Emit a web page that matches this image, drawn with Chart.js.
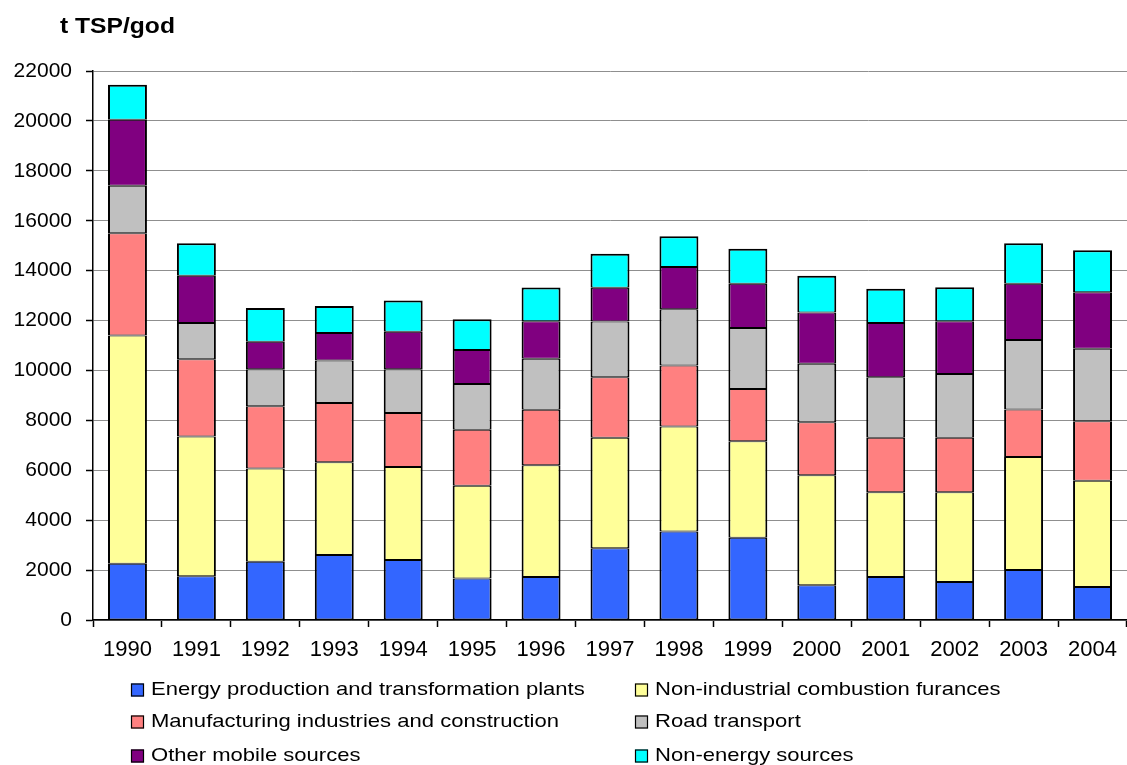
<!DOCTYPE html>
<html>
<head>
<meta charset="utf-8">
<script src="https://cdn.jsdelivr.net/npm/chart.js@4"></script>
<style>
  html, body { margin: 0; padding: 0; background: #fff; }
  #wrap { width: 1127px; height: 765px; position: relative; }
</style>
</head>
<body>
<div id="wrap"><canvas id="c" width="1127" height="765"></canvas></div>
<script>
// Total suspended particles emissions by source category (t/year)
const years = ['1990','1991','1992','1993','1994','1995','1996','1997','1998','1999','2000','2001','2002','2003','2004'];

const energyProduction = [2250, 1750, 2330, 2600, 2400, 1660, 1720, 2880, 3550, 3300, 1390, 1720, 1520, 2000, 1320];
const nonIndustrialCombustion = [9150, 5600, 3740, 3720, 3730, 3720, 4480, 4420, 4200, 3860, 4410, 3400, 3600, 4530, 4260];
const manufacturing = [4100, 3100, 2500, 2380, 2170, 2240, 2230, 2430, 2450, 2100, 2120, 2180, 2180, 1910, 2380];
const roadTransport = [1900, 1450, 1480, 1700, 1750, 1840, 2040, 2230, 2250, 2440, 2350, 2430, 2560, 2780, 2910];
const otherMobile = [2650, 1900, 1100, 1100, 1500, 1360, 1500, 1350, 1700, 1770, 2050, 2170, 2110, 2250, 2260];
const nonEnergy = [1400, 1300, 1350, 1080, 1250, 1230, 1350, 1370, 1230, 1410, 1480, 1370, 1360, 1630, 1690];

const seriesNames = [
  'Energy production and transformation plants',
  'Non-industrial combustion furances',
  'Manufacturing industries and construction',
  'Road transport',
  'Other mobile sources',
  'Non-energy sources'
];
const seriesColors = ['#3366FF', '#FFFF99', '#FF8080', '#C0C0C0', '#800080', '#00FFFF'];
const seriesValues = [energyProduction, nonIndustrialCombustion, manufacturing, roadTransport, otherMobile, nonEnergy];

const yAxisTitle = 't TSP/god';
const yMin = 0, yMax = 22000, yStep = 2000;

const FONT = '"Liberation Sans", Arial, sans-serif';

// Draws text slightly widened horizontally
function wideText(ctx, text, x, y, sx) {
  ctx.save();
  ctx.translate(x, y);
  ctx.scale(sx, 1);
  ctx.fillText(text, 0, 0);
  ctx.restore();
}

// Unit caption above the value axis
const captionPlugin = {
  id: 'caption',
  afterDraw(chart) {
    const ctx = chart.ctx;
    ctx.save();
    ctx.font = 'bold 22px ' + FONT;
    ctx.fillStyle = '#000';
    ctx.textAlign = 'left';
    ctx.textBaseline = 'middle';
    wideText(ctx, yAxisTitle, 60, 27, 1.12);
    ctx.restore();
  }
};

// Two-column legend below the category axis
const gridLegendPlugin = {
  id: 'gridLegend',
  afterDraw(chart) {
    const ctx = chart.ctx;
    const colX = [131, 635];
    const rowY = [690, 722, 756];
    const box = 13;
    ctx.save();
    ctx.font = '19px ' + FONT;
    ctx.textAlign = 'left';
    ctx.textBaseline = 'middle';
    chart.data.datasets.forEach((ds, i) => {
      const x = colX[i % 2];
      const y = rowY[Math.floor(i / 2)];
      ctx.fillStyle = ds.backgroundColor;
      ctx.fillRect(x, y - box / 2, box, box);
      ctx.strokeStyle = '#000';
      ctx.lineWidth = 1.2;
      ctx.strokeRect(x + 0.5, y - box / 2 + 0.5, box - 1, box - 1);
      ctx.fillStyle = '#000';
      wideText(ctx, ds.label, x + 20, y, 1.16);
    });
    ctx.restore();
  }
};

// Segment joins share one line: 1px from each neighbour, 2px on the sides
const datasets = seriesValues.map((vals, i) => ({
  label: seriesNames[i],
  data: vals,
  backgroundColor: seriesColors[i],
  borderColor: '#000',
  borderWidth: { left: 2, right: 2, top: i === seriesValues.length - 1 ? 2 : 1, bottom: 1 },
  borderSkipped: false,
  barPercentage: 0.565,
  categoryPercentage: 1.0
}));

new Chart(document.getElementById('c'), {
  type: 'bar',
  data: { labels: years, datasets },
  options: {
    responsive: false,
    animation: false,
    layout: { padding: { top: 71, right: 0, left: 0, bottom: 0 } },
    plugins: {
      legend: { display: false },
      tooltip: { enabled: false },
      title: { display: false }
    },
    scales: {
      x: {
        stacked: true,
        offset: true,
        grid: {
          offset: true,
          drawOnChartArea: false,
          drawTicks: true,
          tickLength: 7,
          tickColor: '#000',
          tickWidth: 1.5
        },
        border: { display: true, color: '#000', width: 1.5 },
        ticks: {
          color: '#000',
          font: { family: FONT, size: 22 },
          padding: 10,
          maxRotation: 0,
          autoSkip: false
        },
        afterFit(scale) { scale.height = 145; }
      },
      y: {
        stacked: true,
        min: yMin,
        max: yMax,
        grid: {
          color: '#8f8f8f',
          lineWidth: 1,
          drawTicks: true,
          tickLength: 7,
          tickColor: '#000',
          tickWidth: 1.5
        },
        border: { display: true, color: '#000', width: 1.5 },
        ticks: {
          stepSize: yStep,
          color: '#000',
          font: { family: FONT, size: 21 },
          padding: 14,
          callback: (v) => String(v)
        },
        afterFit(scale) { scale.width = 93; }
      }
    }
  },
  plugins: [captionPlugin, gridLegendPlugin]
});
</script>
</body>
</html>
